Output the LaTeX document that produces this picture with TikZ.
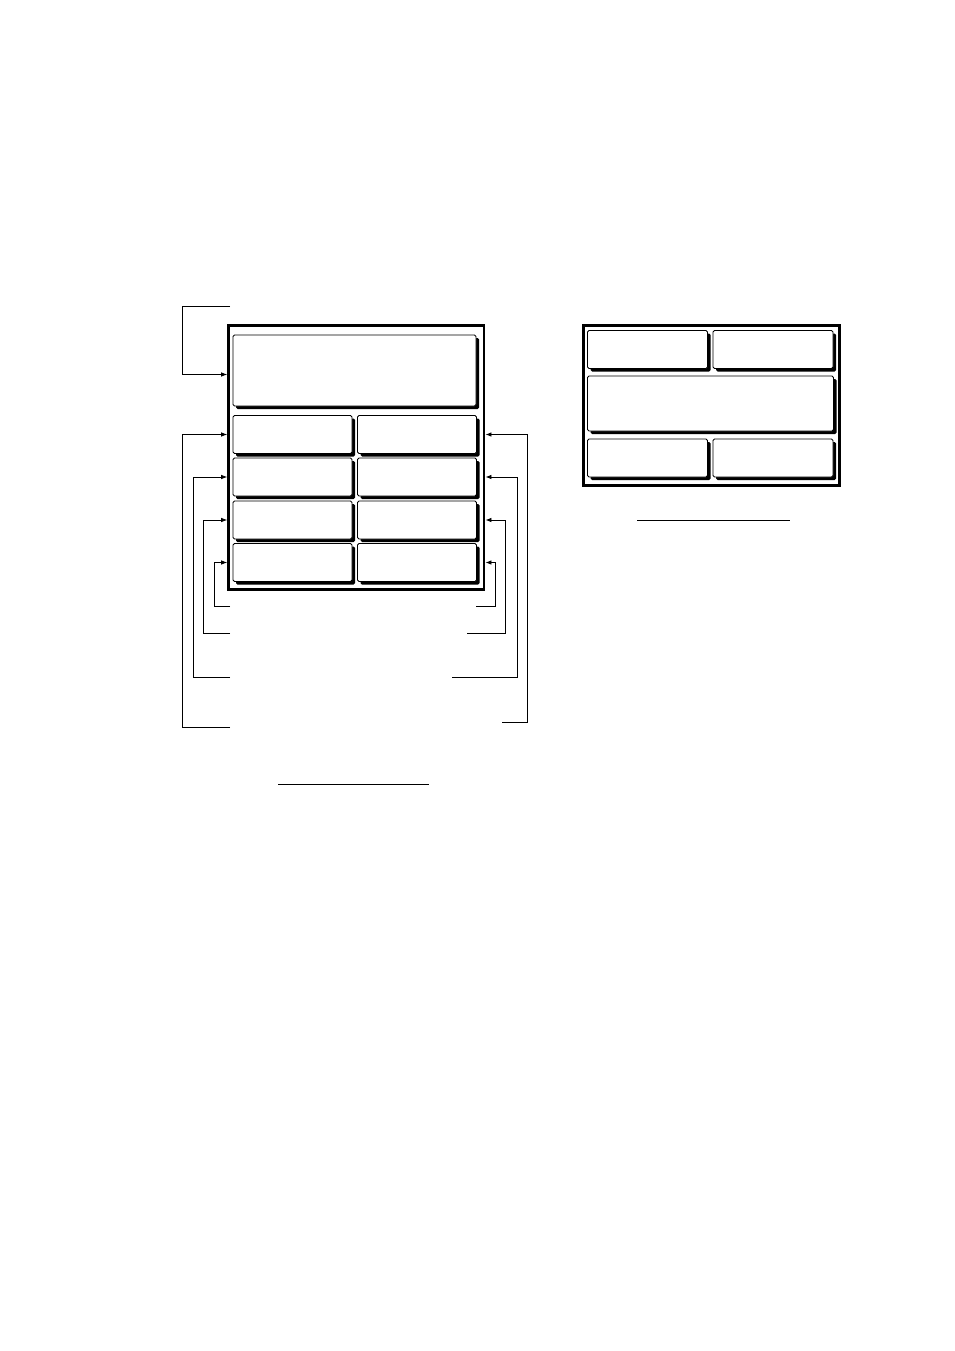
\documentclass[tikz,border=0pt]{standalone}
\usetikzlibrary{arrows.meta,shadows}
\begin{document}
\begin{tikzpicture}[x=1pt,y=-1pt,
  panel/.style={shape=rectangle, draw, line width=2.7pt, inner sep=0pt},
  softkey/.style={shape=rectangle, rounded corners=1.5pt, draw, fill=white, line width=0.8pt, inner sep=0pt,
    minimum width=120pt, minimum height=38pt,
    drop shadow={shadow xshift=3pt, shadow yshift=-3pt, fill=black, opacity=1}},
  lead/.style={line width=0.8pt, -{Latex[length=6pt,width=4.5pt]}}]
\useasboundingbox (0,0) rectangle (954,1351);

% left panel
\node[panel, minimum width=255.5pt, minimum height=264.5pt] (framel) at (356.3,457.5) {};
\node[softkey, minimum width=243pt, minimum height=71pt] (top) at (354.5,370.5) {};
\node[softkey, minimum width=119pt] (k1l) at (292.5,434.5) {};
\node[softkey, minimum width=119pt] (k1r) at (417,434.5) {};
\node[softkey, minimum width=119pt] (k2l) at (292.5,477) {};
\node[softkey, minimum width=119pt] (k2r) at (417,477) {};
\node[softkey, minimum width=119pt] (k3l) at (292.5,520) {};
\node[softkey, minimum width=119pt] (k3r) at (417,520) {};
\node[softkey, minimum width=119pt] (k4l) at (292.5,562.5) {};
\node[softkey, minimum width=119pt] (k4r) at (417,562.5) {};

% right panel
\node[panel, minimum width=255.5pt, minimum height=160pt] (framer) at (711.5,405.3) {};
\node[softkey] (u1) at (647.5,349.5) {};
\node[softkey] (u2) at (773,349.5) {};
\node[softkey, minimum width=246pt, minimum height=55pt] (mid) at (710.5,403.5) {};
\node[softkey] (d1) at (647.5,458) {};
\node[softkey] (d2) at (773,458) {};

% leader ends
\coordinate (lt) at (230,306);
\coordinate (lb1) at (230,727);
\coordinate (lb2) at (230,677);
\coordinate (lb3) at (230,633);
\coordinate (lb4) at (230,606);
\coordinate (rb1) at (502,722);
\coordinate (rb2) at (452,677);
\coordinate (rb3) at (467,633);
\coordinate (rb4) at (476,606);

\draw[lead] (lt) -- ++(-48,0) |- ([yshift=-4pt]framel.west |- top.west);
\draw[lead] (lb1) -- ++(-48,0) |- (framel.west |- k1l.west);
\draw[lead] (lb2) -- ++(-37,0) |- (framel.west |- k2l.west);
\draw[lead] (lb3) -- ++(-27,0) |- (framel.west |- k3l.west);
\draw[lead] (lb4) -- ++(-16,0) |- (framel.west |- k4l.west);
\draw[lead] (rb1) -- ++(25,0) |- (framel.east |- k1r.east);
\draw[lead] (rb2) -- ++(65,0) |- (framel.east |- k2r.east);
\draw[lead] (rb3) -- ++(38.5,0) |- (framel.east |- k3r.east);
\draw[lead] (rb4) -- ++(19.5,0) |- (framel.east |- k4r.east);

% title rules
\coordinate (capl) at (278,784);
\coordinate (capr) at (637,520);
\draw[line width=0.9pt] (capl) -- ++(151,0);
\draw[line width=0.9pt] (capr) -- ++(153,0);
\end{tikzpicture}
\end{document}
